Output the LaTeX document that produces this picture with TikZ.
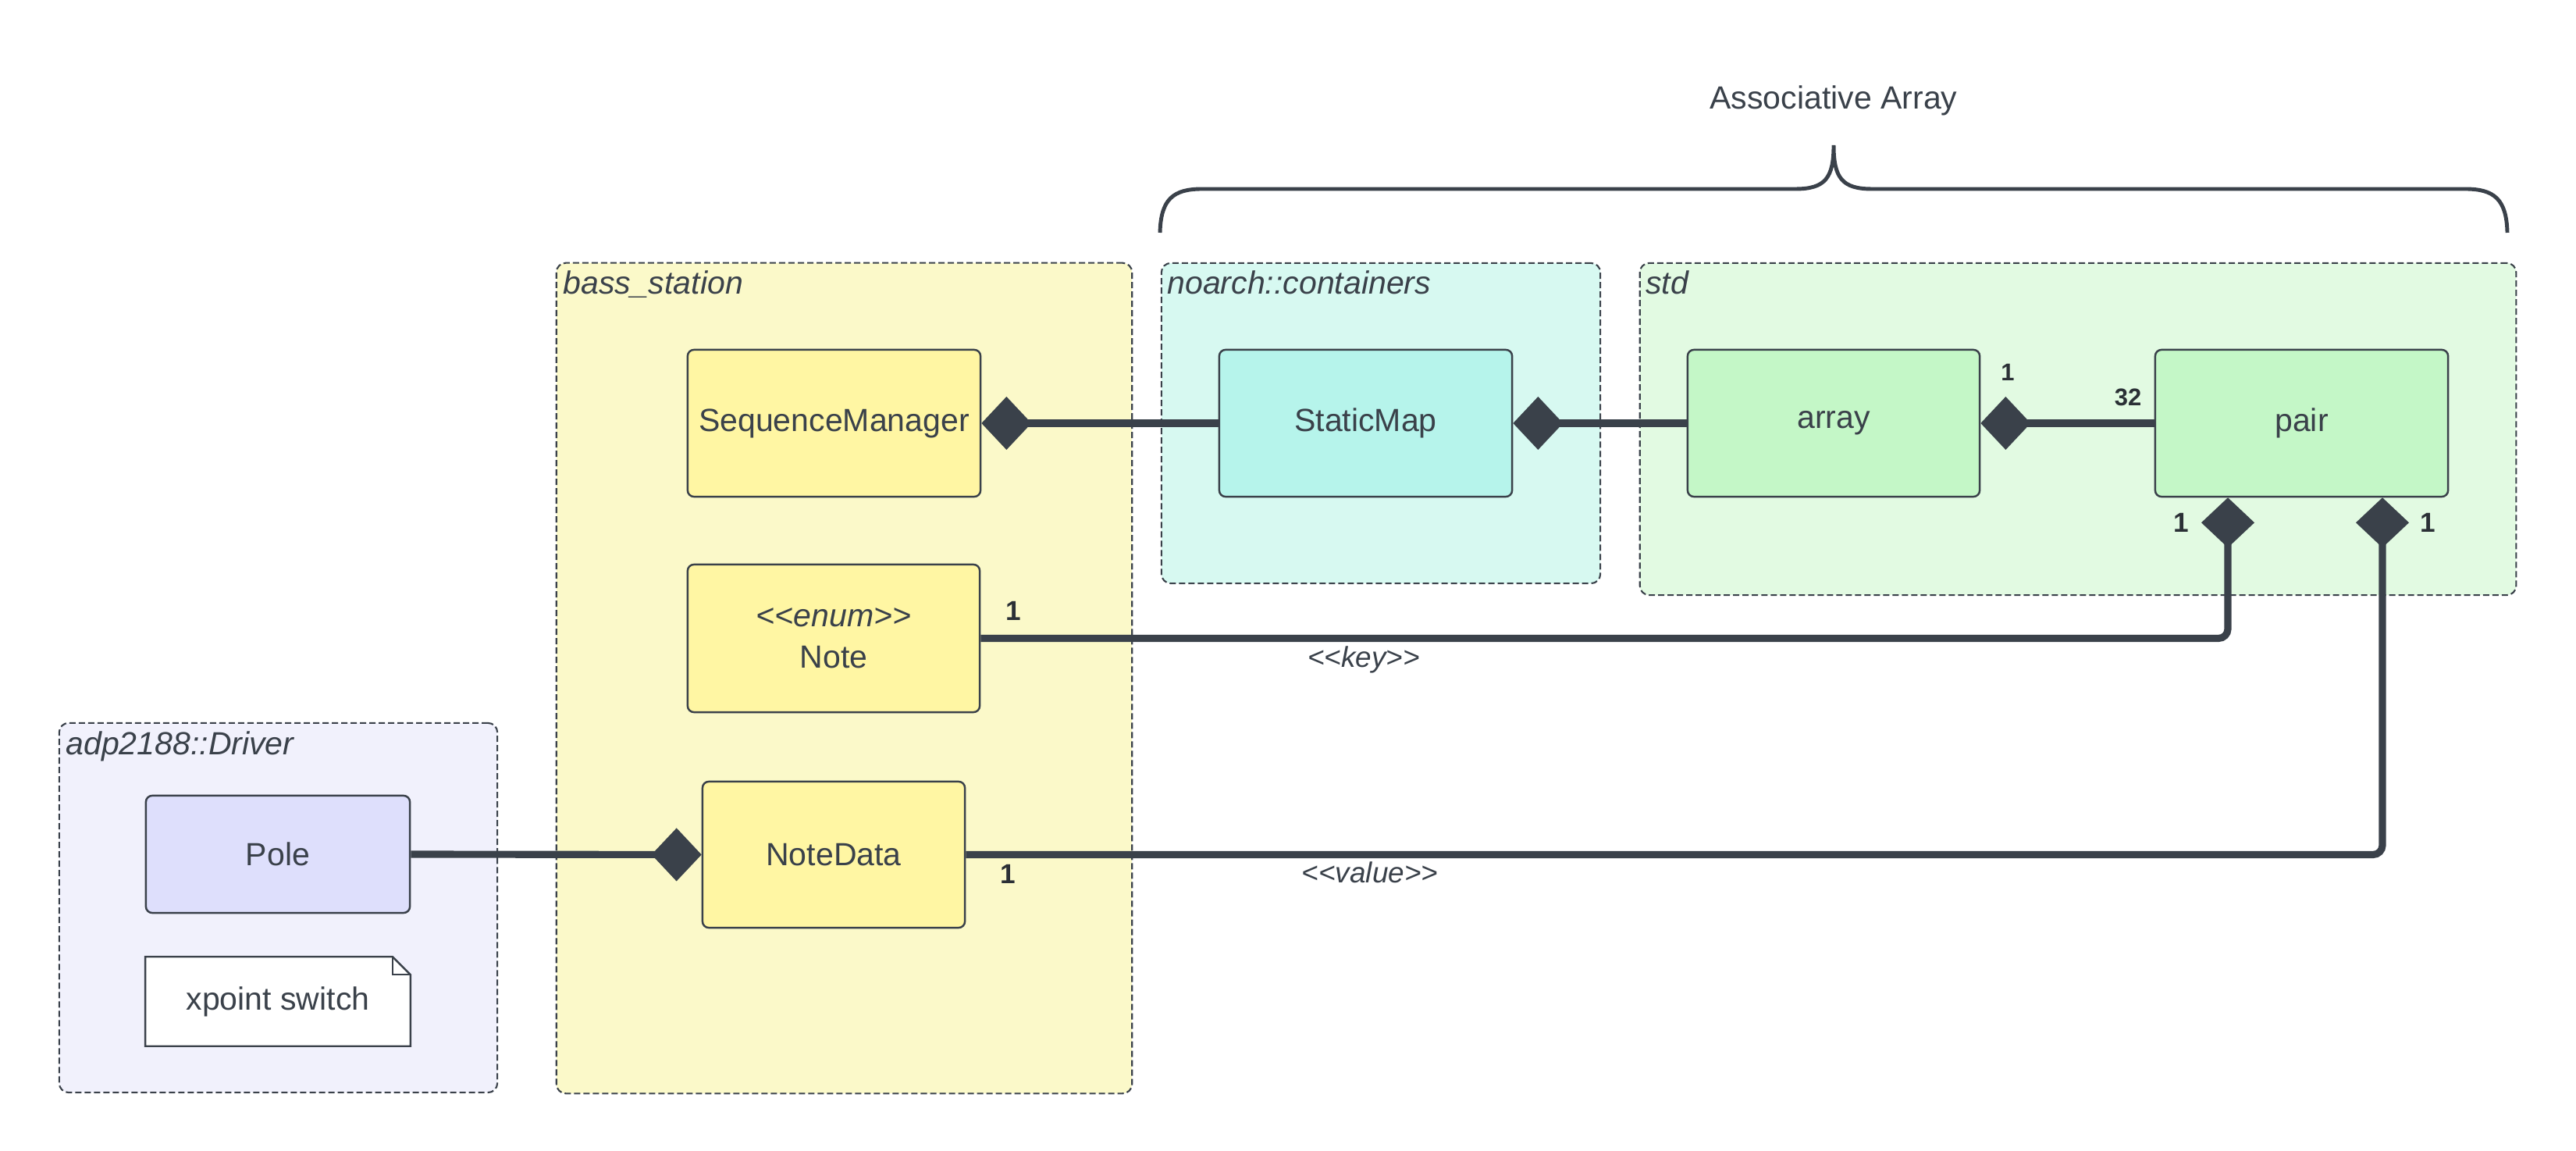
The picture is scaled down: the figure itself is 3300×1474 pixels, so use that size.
\documentclass[tikz,border=0pt]{standalone}
\usepackage{fontspec}
\setmainfont{Liberation Sans}
\usetikzlibrary{arrows.meta,calc}

\definecolor{ink}{HTML}{3A414A}
\definecolor{inkdark}{HTML}{2B3036}
\definecolor{bassbg}{HTML}{FBF9C9}
\definecolor{bassbox}{HTML}{FFF6A3}
\definecolor{noarchbg}{HTML}{D7F9F1}
\definecolor{noarchbox}{HTML}{B6F4EB}
\definecolor{stdbg}{HTML}{E2FAE2}
\definecolor{stdbox}{HTML}{C4F7C7}
\definecolor{drvbg}{HTML}{F1F1FC}
\definecolor{drvbox}{HTML}{DEDFFC}

\pgfdeclarelayer{frames}
\pgfdeclarelayer{paper}
\pgfsetlayers{frames,paper,main}

\tikzset{
  agg/.tip={Diamond[length=0.64cm,width=0.68cm,line width=0pt]},
  pkg/.style={draw=ink, line width=0.6pt, dash pattern=on 0.08cm off 0.04cm,
    rounded corners=0.12cm, inner sep=0pt},
  pkgtitle/.style={anchor=base west, inner sep=0pt, text=ink,
    font=\fontsize{11.67}{14}\selectfont\itshape},
  cls/.style={draw=ink, line width=0.7pt, rounded corners=0.08cm, inner sep=0pt,
    align=center, text=ink, font=\fontsize{11.67}{15}\selectfont},
  mult/.style={inner sep=0pt, text=inkdark, font=\fontsize{8.8}{10}\selectfont\bfseries},
  multbig/.style={mult, font=\fontsize{10}{12}\selectfont\bfseries},
  stereo/.style={anchor=base, inner sep=0pt, text=ink,
    font=\fontsize{10.5}{12}\selectfont\itshape},
  link/.style={draw=ink, line width=2.6pt},
}

\begin{document}
\begin{tikzpicture}[x=0.01cm, y=-0.01cm]
\useasboundingbox (0,0) rectangle (3300,1474);

% packages (namespaces)
\begin{pgfonlayer}{frames}
  \node[pkg, fill=bassbg,   minimum width=7.37cm,  minimum height=10.63cm] (bass)   at (1081.5,868.5) {};
  \node[pkg, fill=noarchbg, minimum width=5.62cm,  minimum height=4.10cm]  (noarch) at (1769,542) {};
  \node[pkg, fill=stdbg,    minimum width=11.22cm, minimum height=4.25cm]  (std)    at (2662,549.5) {};
  \node[pkg, fill=drvbg,    minimum width=5.61cm,  minimum height=4.73cm]  (drv)    at (356.5,1162.5) {};
\end{pgfonlayer}

\node[pkgtitle] (bassT)   at ($(bass.north west)+(9,41)$)   {bass\_station};
\node[pkgtitle] (noarchT) at ($(noarch.north west)+(8,41)$) {noarch::containers};
\node[pkgtitle] (stdT)    at ($(std.north west)+(8,41)$)    {std};
\node[pkgtitle] (drvT)    at ($(drv.north west)+(9,42)$)    {adp2188::Driver};

% classes
\node[cls, fill=bassbox,   minimum width=3.75cm, minimum height=1.88cm] (seq)  at (1068.5,542) {SequenceManager};
\node[cls, fill=noarchbox, minimum width=3.75cm, minimum height=1.88cm] (smap) at (1749.5,542) {StaticMap};
\node[cls, fill=stdbox,    minimum width=3.74cm, minimum height=1.88cm] (arr)  at (2349,542)   {array};
\node[cls, fill=stdbox,    minimum width=3.75cm, minimum height=1.88cm] (pair) at (2948.5,542) {pair};
\node[cls, fill=bassbox,   minimum width=3.74cm, minimum height=1.89cm] (note) at (1068,817.5) {\textit{<{}<enum>{}>}\\Note};
\node[cls, fill=bassbox,   minimum width=3.36cm, minimum height=1.87cm] (nd)   at (1068,1094.5) {NoteData};
\node[cls, fill=drvbox,    minimum width=3.38cm, minimum height=1.50cm] (pole) at (356,1094) {Pole};

% comment note with folded corner
\node[inner sep=0pt, minimum width=3.38cm, minimum height=1.13cm, text=ink,
      font=\fontsize{11.67}{14}\selectfont] (xp) at (356,1282.5) {xpoint switch};
\begin{pgfonlayer}{paper}
  \draw[ink, line width=0.7pt, fill=white]
    (xp.north west) -- ($(xp.north east)+(-23,0)$) -- ($(xp.north east)+(0,23)$)
    -- (xp.south east) -- (xp.south west) -- cycle;
  \draw[ink, line width=0.7pt]
    ($(xp.north east)+(-23,0)$) -- ($(xp.north east)+(-23,23)$) -- ($(xp.north east)+(0,23)$);
\end{pgfonlayer}

% compositions
\draw[link, agg-] (seq.east)  -- (smap.west);
\draw[link, agg-] (smap.east) -- (arr.west);
\draw[link, agg-] (arr.east)  -- (pair.west);
\draw[link, -agg] (pole.east) -- (nd.west);

\coordinate (pk) at ($(pair.south)+(-94.5,0)$);
\coordinate (pv) at ($(pair.south)+(103.5,0)$);
\draw[link, -agg, rounded corners=0.12cm] (note.east) -| (pk);
\draw[link, -agg, rounded corners=0.12cm] (nd.east)   -| (pv);

% multiplicities
\node[mult]    (mArr)  at (2572,477)  {1};
\node[mult]    (mPair) at (2726,509)  {32};
\node[multbig] (mKey)  at (2794,669)  {1};
\node[multbig] (mVal)  at (3110,669)  {1};
\node[multbig] (mNote) at (1298,782)  {1};
\node[multbig] (mND)   at (1291,1119) {1};

% role labels
\node[stereo] (lKey) at (1747,855)  {<{}<key>{}>};
\node[stereo] (lVal) at (1755,1130) {<{}<value>{}>};

% brace over the associative array
\node[anchor=base, inner sep=0pt, text=ink, font=\fontsize{11.67}{14}\selectfont]
  (assoc) at (2349,140) {Associative Array};
\draw[ink, line width=1.4pt]
  (1486,298) .. controls (1487,255) and (1503,242) .. (1540,242)
  -- (2300,242) .. controls (2338,242) and (2349,228) .. (2349,186)
  .. controls (2349,228) and (2360,242) .. (2398,242)
  -- (3158,242) .. controls (3195,242) and (3211,255) .. (3212,298);

\end{tikzpicture}
\end{document}
